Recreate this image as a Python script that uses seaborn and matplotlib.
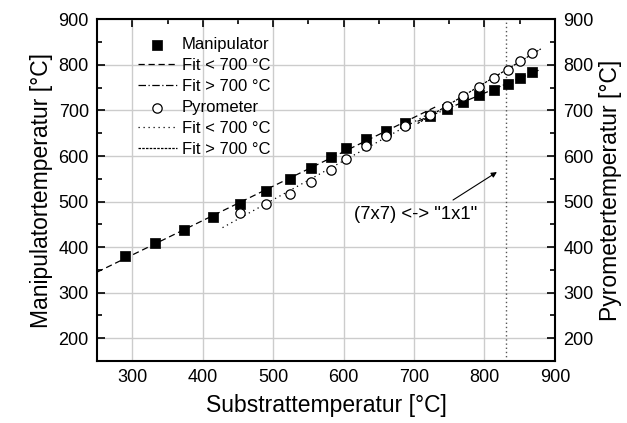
import numpy as np
import pandas as pd
import matplotlib
matplotlib.use("Agg")
import matplotlib.pyplot as plt
from matplotlib.ticker import MultipleLocator
import seaborn as sns

sns.set_theme(style="white")
plt.rcParams['font.family'] = ['Liberation Sans', 'DejaVu Sans']
plt.rcParams['text.color'] = 'black'
plt.rcParams['axes.labelcolor'] = 'black'

# Manipulator readings vs substrate temperature
manip_x = [290, 332, 373, 415, 453, 490, 524, 554, 582, 604, 632, 660, 687, 723, 747, 769, 792, 813, 834, 851, 868]
manip_y = [380, 409, 437, 466, 494, 523, 549, 574, 597, 618, 637, 656, 672, 688, 704, 719, 733, 745, 759, 772, 784]

# Pyrometer readings vs substrate temperature
pyro_x = [453, 490, 524, 554, 582, 604, 632, 660, 687, 723, 747, 769, 792, 813, 834, 851, 868]
pyro_y = [475, 495, 517, 542, 569, 594, 621, 644, 666, 691, 710, 731, 751, 771, 790, 809, 827]

# fit ranges (x) for the two temperature regimes
manip_low_range = [250, 730]
manip_high_range = [705, 880]
pyro_low_range = [428, 730]
pyro_high_range = [705, 880]

marker_pos = 830
note_label = '(7x7) <-> "1x1"'

man = pd.DataFrame({'x': manip_x, 'y': manip_y})
pyr = pd.DataFrame({'x': pyro_x, 'y': pyro_y})


def fit_line(df, lo, hi, rng):
    sub = df[(df['x'] >= lo) & (df['x'] <= hi)]
    k, d = np.polyfit(sub['x'], sub['y'], 1)
    xs = np.array(rng, dtype=float)
    return pd.DataFrame({'x': xs, 'y': k * xs + d})


fig = plt.figure(figsize=(6.27, 4.23), dpi=100)
ax = fig.add_axes([0.155, 0.147, 0.730, 0.807])

ax.axvline(marker_pos, color='#555555', ls=(0, (1, 2)), lw=1, zorder=1)

sns.scatterplot(data=man, x='x', y='y', ax=ax, marker='s', s=45, color='black',
                edgecolor='black', linewidth=0.5, label='Manipulator', zorder=4)
ml = fit_line(man, 0, 700, manip_low_range)
sns.lineplot(data=ml, x='x', y='y', ax=ax, color='black', lw=0.9, label='Fit < 700 °C', zorder=3)
ax.lines[-1].set_linestyle((0, (5, 3)))
mh = fit_line(man, 700, 900, manip_high_range)
sns.lineplot(data=mh, x='x', y='y', ax=ax, color='black', lw=0.9, label='Fit > 700 °C', zorder=3)
ax.lines[-1].set_linestyle((0, (6, 2, 1, 2)))

sns.scatterplot(data=pyr, x='x', y='y', ax=ax, marker='o', s=45, facecolor='white',
                edgecolor='black', linewidth=0.9, label='Pyrometer', zorder=5)
pl = fit_line(pyr, 0, 700, pyro_low_range)
sns.lineplot(data=pl, x='x', y='y', ax=ax, color='black', lw=0.9, label='Fit < 700 °C', zorder=3)
ax.lines[-1].set_linestyle((0, (1, 3)))
ph = fit_line(pyr, 700, 900, pyro_high_range)
sns.lineplot(data=ph, x='x', y='y', ax=ax, color='black', lw=0.9, label='Fit > 700 °C', zorder=3)
ax.lines[-1].set_linestyle((0, (2, 1)))

ax.set_xlim(250, 900)
ax.set_ylim(150, 900)
ax.xaxis.set_major_locator(MultipleLocator(100))
ax.xaxis.set_minor_locator(MultipleLocator(50))
ax.yaxis.set_major_locator(MultipleLocator(100))
ax.yaxis.set_minor_locator(MultipleLocator(50))
ax.set_yticks(range(200, 901, 100))
ax.grid(True, which='major', color='#cccccc', lw=1)
ax.set_axisbelow(True)
ax.tick_params(which='both', direction='in', top=True, right=False, labelsize=13, width=1.2,
               colors='black', pad=6)
ax.tick_params(which='major', length=6)
ax.tick_params(which='minor', length=3.5)
for sp in ax.spines.values():
    sp.set_color('black')
    sp.set_linewidth(1.5)

ax.set_xlabel('Substrattemperatur [°C]', fontsize=16.5, labelpad=6, color='black')
ax.set_ylabel('Manipulatortemperatur [°C]', fontsize=16.5, labelpad=4, color='black')

ax2 = ax.twinx()
ax2.set_ylim(150, 900)
ax2.set_yticks(range(200, 901, 100))
ax2.yaxis.set_minor_locator(MultipleLocator(50))
ax2.tick_params(which='both', direction='in', labelsize=13, width=1.2, colors='black', pad=6)
ax2.tick_params(which='major', length=6)
ax2.tick_params(which='minor', length=3.5)
ax2.grid(False)
ax2.set_ylabel('Pyrometertemperatur [°C]', fontsize=16.5, labelpad=4, color='black')
for sp in ax2.spines.values():
    sp.set_visible(False)

ax.annotate('', xy=(821, 568), xytext=(752, 500),
            arrowprops=dict(arrowstyle='-|>', color='black', lw=0.8, mutation_scale=8))
ax.text(702, 472, note_label, fontsize=13.3, ha='center', va='center', color='black')

leg = ax.legend(loc='upper left', bbox_to_anchor=(0.075, 0.968), frameon=False, fontsize=12,
                handlelength=2.3, handletextpad=0.3, labelspacing=0.36, borderaxespad=0)
for t in leg.get_texts():
    t.set_color('black')

fig.savefig('out.png', dpi=100)
